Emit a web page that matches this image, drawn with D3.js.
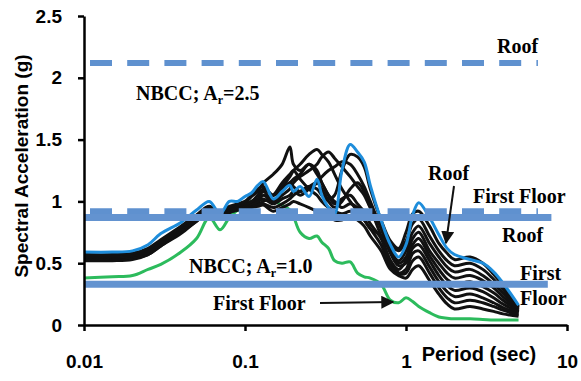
<!DOCTYPE html>
<html>
<head>
<meta charset="utf-8">
<script src="https://cdn.jsdelivr.net/npm/d3@7"></script>
<style>
  body { margin: 0; background: #fff; }
  .axis path, .axis line { stroke: #000; stroke-width: 2.5px; }
  .axis text { font-family: "Liberation Sans", Arial, sans-serif; font-weight: bold; font-size: 19px; fill: #000; }
  .note { font-family: "Liberation Serif", "Times New Roman", serif; font-weight: bold; font-size: 20px; fill: #000; }
  .axisTitle { font-family: "Liberation Sans", Arial, sans-serif; font-weight: bold; font-size: 19px; fill: #000; }
</style>
</head>
<body>
<script>
// periods (sec) shared by every spectrum
var periods = [0.01, 0.015, 0.02, 0.025, 0.03, 0.04, 0.05, 0.06, 0.07, 0.08,
  0.09, 0.1, 0.11, 0.12, 0.13, 0.15, 0.17, 0.19, 0.2, 0.22,
  0.25, 0.28, 0.3, 0.33, 0.36, 0.4, 0.45, 0.5, 0.55, 0.6,
  0.7, 0.8, 0.9, 1.0, 1.1, 1.2, 1.4, 1.6, 1.8, 2.0,
  2.5, 3.0, 3.5, 4.0, 5.0];

// roof spectrum (blue)
var roofSa = [0.59, 0.59, 0.60, 0.65, 0.74, 0.83, 0.93, 1.00, 0.90, 1.00,
  1.00, 1.04, 1.07, 1.13, 1.16, 1.02, 1.08, 1.13, 1.08, 1.12,
  1.04, 1.18, 1.05, 0.95, 0.90, 1.25, 1.46, 1.40, 1.32, 1.13,
  0.85, 0.65, 0.55, 0.65, 0.89, 0.99, 0.87, 0.73, 0.62, 0.57,
  0.53, 0.50, 0.43, 0.34, 0.16];

// first floor spectrum (green)
var firstFloorSa = [0.38, 0.39, 0.40, 0.45, 0.49, 0.59, 0.70, 0.87, 0.77, 0.87,
  0.93, 0.97, 1.00, 1.02, 1.01, 1.00, 0.97, 0.93, 0.88, 0.75,
  0.70, 0.72, 0.67, 0.62, 0.52, 0.50, 0.51, 0.42, 0.39, 0.38,
  0.33, 0.20, 0.18, 0.22, 0.19, 0.15, 0.10, 0.065, 0.055, 0.05,
  0.05, 0.045, 0.04, 0.04, 0.04];

// intermediate floors (black)
var floor9 = [0.57, 0.57, 0.58, 0.62, 0.69, 0.80, 0.89, 0.96, 0.90, 0.96,
  0.98, 1.00, 1.05, 1.10, 1.12, 1.05, 1.10, 1.15, 1.12, 1.08,
  1.12, 1.15, 1.10, 1.02, 1.05, 1.25, 1.38, 1.36, 1.28, 1.10,
  0.85, 0.68, 0.62, 0.75, 0.90, 0.92, 0.80, 0.66, 0.58, 0.53,
  0.55, 0.50, 0.41, 0.32, 0.15];
var floor8 = [0.56, 0.56, 0.57, 0.61, 0.68, 0.79, 0.88, 0.95, 0.89, 0.95,
  0.97, 0.99, 1.04, 1.08, 1.15, 1.22, 1.30, 1.44, 1.30, 1.25,
  1.30, 1.22, 1.15, 1.05, 0.98, 1.02, 1.05, 0.98, 0.92, 0.88,
  0.80, 0.66, 0.60, 0.68, 0.82, 0.86, 0.72, 0.60, 0.52, 0.48,
  0.50, 0.45, 0.37, 0.29, 0.14];
var floor7 = [0.55, 0.55, 0.56, 0.60, 0.67, 0.78, 0.87, 0.94, 0.88, 0.94,
  0.96, 0.98, 1.00, 1.05, 1.10, 1.05, 1.12, 1.20, 1.25, 1.30,
  1.38, 1.42, 1.38, 1.32, 1.22, 1.10, 1.00, 0.92, 0.85, 0.78,
  0.72, 0.60, 0.52, 0.60, 0.75, 0.80, 0.66, 0.55, 0.47, 0.43,
  0.45, 0.40, 0.33, 0.26, 0.13];
var floor6 = [0.55, 0.55, 0.56, 0.59, 0.66, 0.77, 0.86, 0.93, 0.88, 0.93,
  0.95, 0.97, 1.00, 1.02, 1.08, 1.00, 1.05, 1.10, 1.15, 1.20,
  1.25, 1.30, 1.36, 1.40, 1.35, 1.28, 1.20, 1.12, 1.05, 0.95,
  0.82, 0.62, 0.50, 0.55, 0.70, 0.75, 0.60, 0.50, 0.42, 0.38,
  0.40, 0.36, 0.30, 0.23, 0.12];
var floor5 = [0.54, 0.54, 0.55, 0.59, 0.66, 0.76, 0.86, 0.93, 0.87, 0.93,
  0.95, 0.96, 0.98, 1.00, 1.05, 1.00, 1.08, 1.15, 1.18, 1.22,
  1.30, 1.25, 1.15, 1.05, 1.00, 0.95, 0.98, 0.95, 0.90, 0.82,
  0.70, 0.52, 0.45, 0.52, 0.65, 0.70, 0.56, 0.45, 0.37, 0.33,
  0.35, 0.31, 0.26, 0.20, 0.11];
var floor4 = [0.54, 0.54, 0.55, 0.58, 0.65, 0.76, 0.85, 0.92, 0.87, 0.92,
  0.94, 0.96, 0.98, 1.00, 1.02, 0.98, 1.02, 1.05, 1.08, 1.05,
  1.10, 1.15, 1.20, 1.25, 1.28, 1.32, 1.30, 1.22, 1.12, 1.00,
  0.78, 0.58, 0.48, 0.50, 0.62, 0.65, 0.52, 0.40, 0.32, 0.28,
  0.30, 0.27, 0.22, 0.17, 0.10];
var floor3 = [0.53, 0.53, 0.54, 0.58, 0.65, 0.75, 0.85, 0.92, 0.86, 0.92,
  0.94, 0.95, 0.97, 0.98, 1.00, 1.05, 1.15, 1.22, 1.25, 1.18,
  1.10, 1.05, 1.00, 0.95, 0.92, 0.90, 0.92, 0.90, 0.85, 0.78,
  0.65, 0.48, 0.42, 0.45, 0.58, 0.60, 0.47, 0.35, 0.27, 0.23,
  0.25, 0.22, 0.18, 0.14, 0.09];
var floor2 = [0.53, 0.53, 0.54, 0.57, 0.64, 0.75, 0.84, 0.91, 0.86, 0.91,
  0.93, 0.95, 0.96, 0.97, 0.98, 0.95, 0.98, 1.02, 1.05, 1.08,
  1.12, 1.10, 1.05, 1.00, 0.95, 1.00, 1.10, 1.15, 1.08, 0.95,
  0.72, 0.52, 0.42, 0.42, 0.52, 0.55, 0.42, 0.30, 0.22, 0.18,
  0.20, 0.18, 0.15, 0.12, 0.08];
var floor1 = [0.52, 0.52, 0.53, 0.57, 0.64, 0.74, 0.84, 0.91, 0.86, 0.91,
  0.93, 0.94, 0.95, 0.96, 0.97, 0.92, 0.95, 0.98, 1.00, 0.98,
  0.95, 0.92, 0.90, 0.88, 0.85, 0.85, 0.88, 0.85, 0.80, 0.72,
  0.60, 0.45, 0.40, 0.38, 0.45, 0.48, 0.36, 0.25, 0.17, 0.13,
  0.15, 0.13, 0.11, 0.09, 0.07];

// NBCC design levels
var nbccAr25 = [2.12, 0.92];   // roof, first floor (dashed)
var nbccAr25End = 6.6;
var nbccAr10 = [0.87, 0.33];   // roof, first floor (solid)
var nbccAr10End = [8.0, 7.6];

var xTicks = [0.01, 0.1, 1, 10];
var yTicks = [0, 0.5, 1, 1.5, 2, 2.5];

var svgWidth = 581;
var svgHeight = 381;

var margin = {
  top: 16,
  right: 14,
  bottom: 56,
  left: 84
};

var width = svgWidth - margin.left - margin.right;
var height = svgHeight - margin.top - margin.bottom;

var svg = d3.select("body")
  .append("svg")
  .attr("width", svgWidth)
  .attr("height", svgHeight);

var chartGroup = svg.append("g")
  .attr("transform", `translate(${margin.left}, ${margin.top})`);

// scales
var xLogScale = d3.scaleLog().domain([0.01, 10]).range([0, width]);
var yLinearScale = d3.scaleLinear().domain([0, 2.5]).range([height, 0]);

// axes
var bottomAxis = d3.axisBottom(xLogScale)
  .tickValues(xTicks)
  .tickFormat(d => String(d))
  .tickSize(6)
  .tickSizeOuter(0)
  .tickPadding(24);

var leftAxis = d3.axisLeft(yLinearScale)
  .tickValues(yTicks)
  .tickFormat(d => String(d))
  .tickSize(6)
  .tickSizeOuter(0)
  .tickPadding(16);

// spectra
var toPoints = vals => vals.map((v, i) => ({ t: periods[i], sa: v }));

var line = d3.line()
  .x(d => xLogScale(d.t))
  .y(d => yLinearScale(d.sa))
  .curve(d3.curveCatmullRom.alpha(0.5));

chartGroup.append("path")
  .attr("d", line(toPoints(firstFloorSa)))
  .attr("fill", "none")
  .attr("stroke", "#2cbb5c")
  .attr("stroke-width", 3);

var blackRuns = [floor1, floor2, floor3, floor4, floor5, floor6, floor7, floor8, floor9];
chartGroup.selectAll(".floorLine")
  .data(blackRuns)
  .enter()
  .append("path")
  .attr("class", "floorLine")
  .attr("d", d => line(toPoints(d)))
  .attr("fill", "none")
  .attr("stroke", "#111")
  .attr("stroke-width", 3);

chartGroup.append("path")
  .attr("d", line(toPoints(roofSa)))
  .attr("fill", "none")
  .attr("stroke", "#1e8ddb")
  .attr("stroke-width", 3);

// NBCC lines
chartGroup.selectAll(".nbcc25")
  .data(nbccAr25)
  .enter()
  .append("line")
  .attr("class", "nbcc25")
  .attr("x1", xLogScale(0.01))
  .attr("x2", xLogScale(nbccAr25End))
  .attr("y1", d => yLinearScale(d))
  .attr("y2", d => yLinearScale(d))
  .attr("stroke", "#5f91cf")
  .attr("stroke-width", 6)
  .attr("stroke-dasharray", "22,15.2")
  .attr("stroke-dashoffset", 31.2);

chartGroup.selectAll(".nbcc10")
  .data(nbccAr10)
  .enter()
  .append("line")
  .attr("class", "nbcc10")
  .attr("x1", xLogScale(0.01))
  .attr("x2", (d, i) => xLogScale(nbccAr10End[i]))
  .attr("y1", d => yLinearScale(d))
  .attr("y2", d => yLinearScale(d))
  .attr("stroke", "#6393d0")
  .attr("stroke-width", 7);

// axes on top
chartGroup.append("g")
  .attr("class", "axis")
  .attr("transform", `translate(0, ${height})`)
  .call(bottomAxis);

chartGroup.append("g")
  .attr("class", "axis")
  .call(leftAxis);

// axis titles
svg.append("text")
  .attr("class", "axisTitle")
  .attr("transform", "rotate(-90)")
  .attr("x", -166)
  .attr("y", 28)
  .attr("text-anchor", "middle")
  .text("Spectral Acceleration (g)");

svg.append("text")
  .attr("class", "axisTitle")
  .attr("x", 479)
  .attr("y", 361)
  .attr("text-anchor", "middle")
  .style("font-size", "20px")
  .text("Period (sec)");

// annotations
svg.append("defs").append("marker")
  .attr("id", "arrow")
  .attr("viewBox", "0 0 10 10")
  .attr("refX", 9)
  .attr("refY", 5)
  .attr("markerWidth", 6.5)
  .attr("markerHeight", 6.5)
  .attr("orient", "auto")
  .append("path")
  .attr("d", "M0,0L10,5L0,10z")
  .attr("fill", "#111");

function nbccLabel(x, y, value) {
  var t = svg.append("text").attr("class", "note").attr("x", x).attr("y", y);
  t.append("tspan").text("NBCC; A");
  t.append("tspan").attr("font-size", "12px").attr("dy", 4).text("r");
  t.append("tspan").attr("dy", -4).text("=" + value);
}

nbccLabel(136, 100, "2.5");
nbccLabel(189, 273, "1.0");

var notes = [
  { text: "Roof", x: 497, y: 53 },
  { text: "Roof", x: 428, y: 180 },
  { text: "First Floor", x: 473, y: 203 },
  { text: "Roof", x: 502, y: 242 },
  { text: "First", x: 520, y: 280 },
  { text: "Floor", x: 520, y: 305 },
  { text: "First Floor", x: 213, y: 310 }
];

svg.selectAll(".noteText")
  .data(notes)
  .enter()
  .append("text")
  .attr("class", "note noteText")
  .attr("x", d => d.x)
  .attr("y", d => d.y)
  .text(d => d.text);

svg.append("line")
  .attr("x1", 454).attr("y1", 186)
  .attr("x2", 446).attr("y2", 243)
  .attr("stroke", "#111")
  .attr("stroke-width", 2)
  .attr("marker-end", "url(#arrow)");

svg.append("line")
  .attr("x1", 320).attr("y1", 303)
  .attr("x2", 393).attr("y2", 302)
  .attr("stroke", "#111")
  .attr("stroke-width", 2)
  .attr("marker-end", "url(#arrow)");
</script>
</body>
</html>
